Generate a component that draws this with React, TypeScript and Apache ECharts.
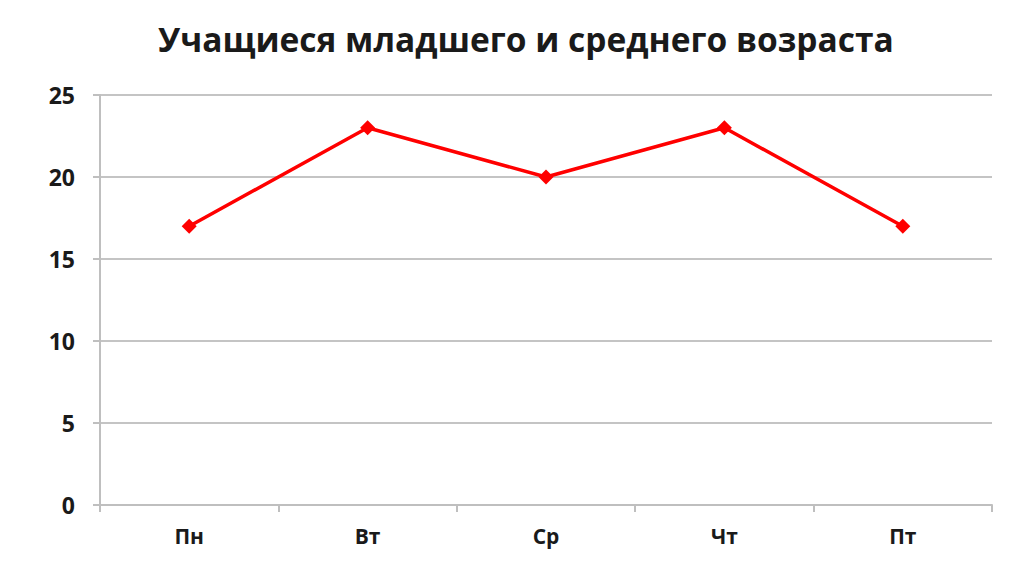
import React, { useEffect, useRef } from "react";
import * as echarts from "echarts";

const title = "Учащиеся младшего и среднего возраста";
const categories = ["Пн", "Вт", "Ср", "Чт", "Пт"];
const values = [17, 23, 20, 23, 17];
const yMin = 0;
const yMax = 25;
const yInterval = 5;

export default function App() {
  const ref = useRef<HTMLDivElement>(null);
  useEffect(() => {
    if (!ref.current) return;
    const chart = echarts.init(ref.current, null, { renderer: "svg" });
    const font = "'Open Sans', 'DejaVu Sans', sans-serif";
    chart.setOption({
      animation: false,
      backgroundColor: "#ffffff",
      title: {
        text: title,
        left: 153,
        top: 17,
        textStyle: { fontFamily: font, fontWeight: "bold", fontSize: 33.5, color: "#1a1a1a" },
      },
      grid: { left: 100, right: 32, top: 95, bottom: 69, containLabel: false },
      xAxis: {
        type: "category",
        data: categories,
        boundaryGap: true,
        axisLine: { lineStyle: { color: "#bfbfbf", width: 2 } },
        axisTick: { show: true, alignWithLabel: false, length: 7, lineStyle: { color: "#bfbfbf", width: 2 } },
        axisLabel: { margin: 20, fontFamily: font, fontWeight: "bold", fontSize: 21, color: "#1a1a1a" },
      },
      yAxis: {
        type: "value",
        min: yMin,
        max: yMax,
        interval: yInterval,
        axisLine: { show: true, lineStyle: { color: "#bfbfbf", width: 2 } },
        axisTick: { show: true, length: 7, lineStyle: { color: "#bfbfbf", width: 2 } },
        splitLine: { show: true, lineStyle: { color: "#c4c4c4", width: 2 } },
        axisLabel: { margin: 25, fontFamily: font, fontWeight: "bold", fontSize: 23, color: "#1a1a1a" },
      },
      series: [
        {
          type: "line",
          data: values,
          symbol: "diamond",
          symbolSize: 15,
          itemStyle: { color: "#ff0000" },
          lineStyle: { color: "#ff0000", width: 3.5 },
        },
      ],
    });
    return () => chart.dispose();
  }, []);
  return <div ref={ref} style={{ width: 1024, height: 574, position: "absolute", left: 0, top: 0 }} />;
}
